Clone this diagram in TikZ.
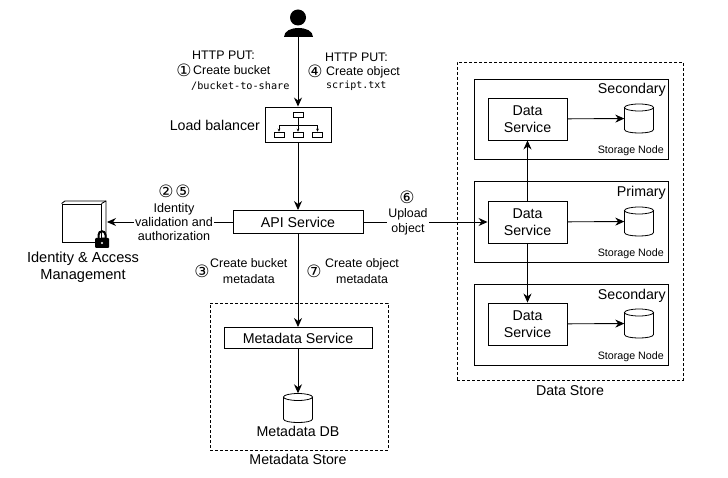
\documentclass[tikz,border=0pt]{standalone}
\usepackage{fontspec}
\setmainfont{Liberation Sans}
\setmonofont{DejaVu Sans Mono}
\newfontfamily\circfont{DejaVu Sans}
\usetikzlibrary{arrows.meta}
\newcommand{\stepno}[1]{{\circfont\fontsize{17}{17}\selectfont #1}}
% cylinder drawn round an empty named node
\newcommand{\dbnode}[2]{
\node[inner sep=0pt,minimum width=29pt,minimum height=29pt] (#1) at (#2) {};
\begin{scope}[shift={(#1)},line width=0.8pt]
\draw (0,-11) ellipse [x radius=14.5,y radius=3.5];
\draw (-14.5,-11) -- (-14.5,11) .. controls (-14.5,15.7) and (14.5,15.7) .. (14.5,11) -- (14.5,-11);
\end{scope}
}
\tikzset{
  conn/.style={draw,line width=0.9pt,-{Stealth[length=9pt,width=8pt]}},
  box/.style={draw,line width=0.9pt,inner sep=0pt,align=center,font=\fontsize{14.2}{17}\selectfont},
  store/.style={draw,densely dashed,line width=0.8pt,inner sep=0pt},
  nodebox/.style={draw,line width=0.9pt,inner sep=0pt},
  mini/.style={draw,line width=0.5pt,minimum width=10pt,minimum height=5pt,inner sep=0pt},
  minilink/.style={line width=0.4pt,-{Stealth[length=3pt,width=2.5pt]}},
  big/.style={inner sep=0pt,align=center,font=\fontsize{14.2}{17}\selectfont},
  note/.style={inner sep=0pt,align=left,font=\fontsize{12.4}{15.5}\selectfont},
  midnote/.style={inner sep=1pt,align=center,fill=white,font=\fontsize{12.6}{14.2}\selectfont},
  tiny/.style={inner sep=0pt,font=\fontsize{10.7}{13}\selectfont}
}
\begin{document}
\begin{tikzpicture}[x=1pt,y=-1pt]
\useasboundingbox (0,0) rectangle (728,478);
% stores and storage nodes
\node[store,minimum width=226pt,minimum height=318pt] (datastore) at (570,221) {};
\node[store,minimum width=178pt,minimum height=147pt] (metastore) at (299,376.5) {};
\node[nodebox,minimum width=194pt,minimum height=80pt] (node1) at (571,119) {};
\node[nodebox,minimum width=194pt,minimum height=81pt] (node2) at (571,221.5) {};
\node[nodebox,minimum width=194pt,minimum height=81pt] (node3) at (571,324.5) {};
% user
\fill (298,17.5) circle (8pt);
\fill (284,37) .. controls (284,31) and (291,28) .. (298.5,28) .. controls (306,28) and (313,31) .. (313,37) -- cycle;
\coordinate (user) at (298,37);
% services
\node[box,minimum width=66pt,minimum height=35pt] (lb) at (298,124.5) {};
\node[box,minimum width=130pt,minimum height=23pt] (api) at (298,222) {API Service};
\node[box,minimum width=148pt,minimum height=21pt] (meta) at (298,338) {Metadata Service};
\dbnode{metadb}{298,408}
\node[box,minimum width=79pt,minimum height=42pt] (ds1) at (527.5,119) {Data\\Service};
\node[box,minimum width=79pt,minimum height=42pt] (ds2) at (527.5,222) {Data\\Service};
\node[box,minimum width=79pt,minimum height=42pt] (ds3) at (527.5,324) {Data\\Service};
\dbnode{db1}{639,118.5}
\dbnode{db2}{639,221.5}
\dbnode{db3}{639,323.5}
% load balancer icon
\node[mini] (lb0) at (298,114.5) {};
\node[mini] (lb1) at (279,134.5) {};
\node[mini] (lb2) at (298,134.5) {};
\node[mini] (lb3) at (317.5,134.5) {};
\draw[minilink] (lb0) -- (lb2);
\draw[minilink] (298,125) -| (lb1);
\draw[minilink] (298,125) -| (lb3);
% identity and access management
\node[nodebox,minimum width=39pt,minimum height=38pt] (iam) at (81.5,223) {};
\draw[line width=0.9pt] (iam.north west) -- (65,201) -- (106,201) -- (106,238) -- (iam.south east |- 0,238);
\draw[line width=0.9pt] (iam.north east) -- (106,201);
\draw[line width=2pt] (98.5,239) -- (98.5,235) .. controls (98.5,230) and (105.5,230) .. (105.5,235) -- (105.5,239);
\fill[rounded corners=1pt] (95,238) rectangle (109,248);
\fill[white] (102,243) circle (1.2pt);
\coordinate (iamport) at (107,222);
% connectors
\draw[conn] (user) -- (lb);
\draw[conn] (lb) -- (api);
\draw[conn] (api) -- (iamport);
\draw[conn] (api) -- (meta);
\draw[conn] (meta) -- (metadb);
\draw[conn] (api) -- (ds2);
\draw[conn] (ds2) -- (ds1);
\draw[conn] (ds2) -- (ds3);
\draw[conn] (ds1) -- (db1);
\draw[conn] (ds2) -- (db2);
\draw[conn] (ds3) -- (db3);
% labels
\node[note,anchor=west] (put1) at (192,55) {HTTP PUT:};
\node[inner sep=0pt] (c1) at (184,70) {\stepno{①}};
\node[note,anchor=west] (create1) at (193,70.5) {Create bucket};
\node[note,anchor=west,font=\ttfamily\fontsize{10.2}{12}\selectfont] (bucket) at (191,86) {/bucket-to-share};
\node[note,anchor=west] (put4) at (325,57) {HTTP PUT:};
\node[inner sep=0pt] (c4) at (315,71) {\stepno{④}};
\node[note,anchor=west] (create4) at (326,72) {Create object};
\node[note,anchor=west,font=\ttfamily\fontsize{10}{12}\selectfont] (script) at (326,86) {script.txt};
\node[big,anchor=east] (lblb) at (260,125) {Load balancer};
\node[inner sep=0pt] (c2) at (166,191) {\stepno{②}};
\node[inner sep=0pt] (c5) at (183,191) {\stepno{⑤}};
\node[midnote] (iamnote) at (174,222) {Identity\\validation and\\authorization};
\node[big,font=\fontsize{14.6}{17}\selectfont] (iamlabel) at (83,267) {Identity \& Access\\Management};
\node[inner sep=0pt] (c3) at (202,271) {\stepno{③}};
\node[note,align=center,anchor=west] (meta3) at (210,271) {Create bucket\\metadata};
\node[inner sep=0pt] (c7) at (314,271) {\stepno{⑦}};
\node[note,align=center,anchor=west] (meta7) at (325,271) {Create object\\metadata};
\node[inner sep=0pt] (c6) at (407,197) {\stepno{⑥}};
\node[midnote,font=\fontsize{12.4}{15}\selectfont] (upload) at (408,221.5) {Upload\\object};
\node[big] (dblabel) at (298,431) {Metadata DB};
\node[big] (metalabel) at (298,459) {Metadata Store};
\node[big] (datalabel) at (570,391) {Data Store};
\node[big,anchor=north east] (sec1) at (666,83) {Secondary};
\node[big,anchor=north east] (pri) at (666,186) {Primary};
\node[big,anchor=north east] (sec3) at (666,289) {Secondary};
\node[tiny,anchor=east] (sn1) at (664,151) {Storage Node};
\node[tiny,anchor=east] (sn2) at (664,254) {Storage Node};
\node[tiny,anchor=east] (sn3) at (664,357) {Storage Node};
\end{tikzpicture}
\end{document}
